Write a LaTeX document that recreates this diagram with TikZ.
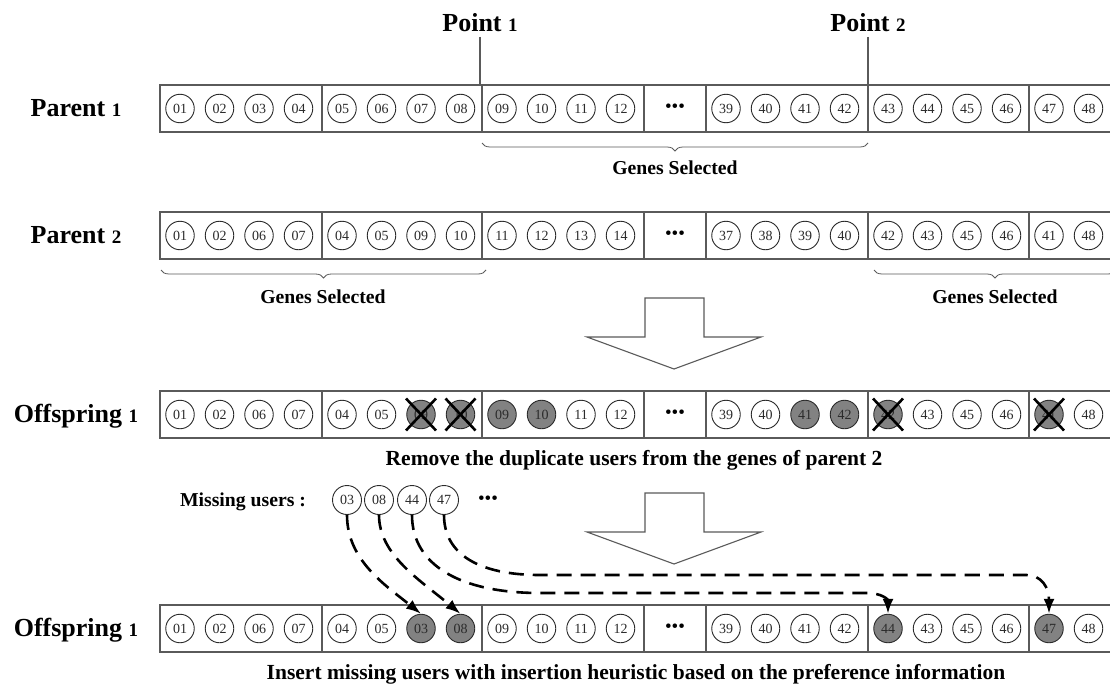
\documentclass[tikz,border=0pt]{standalone}
\usepackage{fontspec}
\setmainfont{Liberation Serif}
\usetikzlibrary{arrows.meta,decorations.pathreplacing}

\definecolor{rule}{HTML}{5A5A5A}
\definecolor{ink}{HTML}{2B2B2B}
\definecolor{hitfill}{HTML}{828282}

\tikzset{
  gene/.style={circle, draw=ink, line width=0.9pt, minimum size=28.5pt, inner sep=0pt,
    text=ink, font=\fontsize{14}{14}\selectfont},
  hit/.style={gene, fill=hitfill},
  lost/.style={gene, minimum size=29pt},
  chromo/.style={draw=rule, line width=1.1pt},
  rowname/.style={anchor=base, inner sep=0pt, font=\bfseries\fontsize{26}{30}\selectfont},
  note/.style={anchor=base, inner sep=0pt, font=\bfseries\fontsize{19.7}{22}\selectfont},
  caption/.style={anchor=base, inner sep=0pt, font=\bfseries\fontsize{21.5}{24}\selectfont},
  gap/.style={inner sep=0pt, font=\fontsize{19}{19}\selectfont},
  selbrace/.style={draw=rule, line width=0.8pt, decorate, decoration={brace, mirror, amplitude=8pt}},
  strike/.style={draw=black, line width=2.6pt},
  move/.style={draw=black, line width=2.6pt, dash pattern=on 15pt off 9pt,
    -{Latex[length=15pt,width=11pt]}},
  flow/.style={draw=rule, line width=1.1pt, fill=white},
  cutline/.style={draw=rule, line width=1.1pt},
}
\newcommand\sm[1]{{\fontsize{19}{19}\selectfont #1}}

% one chromosome strip: #1 = centre y, #2 = name prefix
\newcommand\chromosome[2]{%
  \draw[chromo] (160,#1-23.5) rectangle (1191,#1+23.5);
  \foreach \cx in {322,482,644,706,868,1029}
    \draw[chromo] (\cx,#1-23.5) -- (\cx,#1+23.5);
  \node[gap] (#2-gap) at (675,#1) {•••};
}
% big hollow arrow, #1 = top of the shaft
\newcommand\flowarrow[1]{%
  \draw[flow] (645,#1) -- (704,#1) -- (704,#1+39) -- (761,#1+39) -- (674,#1+71)
    -- (587,#1+39) -- (645,#1+39) -- cycle;}
% cross over a gene node
\newcommand\crossgene[1]{%
  \draw[strike] ([shift={(-15,-16)}]#1.center) -- ([shift={(15,16)}]#1.center);
  \draw[strike] ([shift={(-15,16)}]#1.center) -- ([shift={(15,-16)}]#1.center);}

\begin{document}
\begin{tikzpicture}[x=1pt,y=-1pt]
\fill[white] (0,0) rectangle (1110,685);
\useasboundingbox (0,0) rectangle (1110,685);
\clip (0,0) rectangle (1110,685);

% cut points
\node[rowname] (pt1) at (480,32) {Point \sm{1}};
\node[rowname] (pt2) at (868,32) {Point \sm{2}};
\coordinate (cut1) at (480,85);
\coordinate (cut2) at (868,85);
\draw[cutline] ([yshift=-5pt]pt1.base) -- (cut1);
\draw[cutline] ([yshift=-5pt]pt2.base) -- (cut2);

% Parent 1
\node[rowname] (lp1) at (76,116) {Parent \sm{1}};
\chromosome{108.5}{pa}
\foreach \gx/\gl in {180/01,219.5/02,259/03,298.5/04,342/05,381.5/06,421/07,460.5/08,
  502/09,541.5/10,581/11,620.5/12,726/39,765.5/40,805/41,844.5/42,
  888/43,927.5/44,967/45,1006.5/46,1049/47,1088.5/48}
  \node[gene] (pa-\gl) at (\gx,108.5) {\gl};
\draw[selbrace] (482,143) -- (868,143);
\node[note] (sel1) at (675,174) {Genes Selected};

% Parent 2
\node[rowname] (lp2) at (76,243) {Parent \sm{2}};
\chromosome{235.5}{pb}
\foreach \gx/\gl in {180/01,219.5/02,259/06,298.5/07,342/04,381.5/05,421/09,460.5/10,
  502/11,541.5/12,581/13,620.5/14,726/37,765.5/38,805/39,844.5/40,
  888/42,927.5/43,967/45,1006.5/46,1049/41,1088.5/48}
  \node[gene] (pb-\gl) at (\gx,235.5) {\gl};
\draw[selbrace] (161,270) -- (486,270);
\draw[selbrace] (874,270) -- (1116,270);
\node[note] (sel2) at (323,303) {Genes Selected};
\node[note] (sel3) at (995,303) {Genes Selected};

\flowarrow{298}

% Offspring with duplicates
\node[rowname] (lo1) at (76,422) {Offspring \sm{1}};
\chromosome{414.5}{oa}
\foreach \gx/\gl in {180/01,219.5/02,259/06,298.5/07,342/04,381.5/05,
  581/11,620.5/12,726/39,765.5/40,927.5/43,967/45,1006.5/46,1088.5/48}
  \node[gene] (oa-\gl) at (\gx,414.5) {\gl};
\foreach \gx/\gl in {502/09,541.5/10,805/41,844.5/42}
  \node[hit] (oa-\gl) at (\gx,414.5) {\gl};
\foreach \gx/\gl in {421/09,460.5/10,888/42,1049/41}
  \node[hit] (ox-\gl) at (\gx,414.5) {\gl};
\crossgene{ox-09}
\crossgene{ox-10}
\crossgene{ox-42}
\crossgene{ox-41}
\node[caption] (rm) at (634,465) {Remove the duplicate users from the genes of parent 2};

% missing users
\node[note] (mlab) at (243,506) {Missing users :};
\foreach \gx/\gl in {347/03,379/08,412/44,444/47}
  \node[lost] (mu-\gl) at (\gx,500) {\gl};
\node[gap] (mu-gap) at (488,500) {•••};

\flowarrow{493}

% repaired offspring
\node[rowname] (lo2) at (76,636) {Offspring \sm{1}};
\chromosome{628.5}{ob}
\foreach \gx/\gl in {180/01,219.5/02,259/06,298.5/07,342/04,381.5/05,
  502/09,541.5/10,581/11,620.5/12,726/39,765.5/40,805/41,844.5/42,
  927.5/43,967/45,1006.5/46,1088.5/48}
  \node[gene] (ob-\gl) at (\gx,628.5) {\gl};
\foreach \gx/\gl in {421/03,460.5/08,888/44,1049/47}
  \node[hit] (ob-\gl) at (\gx,628.5) {\gl};

% insertion moves
\draw[move] (mu-03.south) .. controls (347,560) and (385,585) .. (ob-03.north);
\draw[move] (mu-08.south) .. controls (379,555) and (420,580) .. (ob-08.north);
\draw[move] (mu-44.south) .. controls (412,565) and (460,593) .. (540,593)
  -- (866,593) .. controls (883,593) and (888,600) .. (ob-44.north);
\draw[move] (mu-47.south) .. controls (444,555) and (480,575) .. (540,575)
  -- (1026,575) .. controls (1042,575) and (1049,588) .. (ob-47.north);

\node[caption] (ins) at (636,679) {Insert missing users with insertion heuristic based on the preference information};
\end{tikzpicture}
\end{document}
